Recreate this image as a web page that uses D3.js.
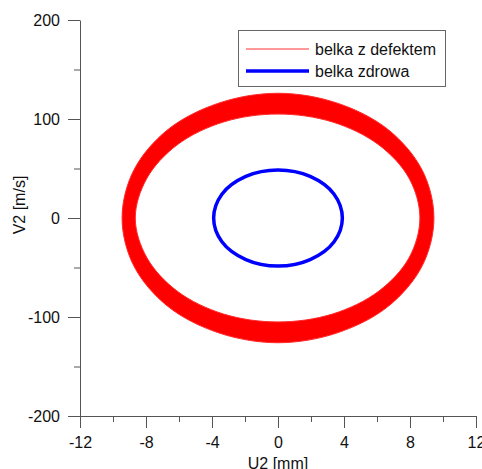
<!doctype html>
<html>
<head>
    <title>Phase portrait</title>
    <script src='https://d3js.org/d3.v7.min.js'></script>
    <style>
        body { margin: 0; background: #fff; }
        text { font-family: 'Liberation Sans', Arial, sans-serif; }
    </style>
</head>
<body>
<svg></svg>
</body>
<script>

    // axis ticks
    var xTicks = [-12, -8, -4, 0, 4, 8, 12];
    var xMinor = [-10, -6, -2, 2, 6, 10];
    var yTicks = [-200, -100, 0, 100, 200];
    var yMinor = [-150, -50, 50, 150];

    // beam with defect: outer and inner edge of the red band (U [mm], V [m/s])
    var defOuterU = [9.45, 8.75, 6.7, 3.6, 0, -3.6, -6.7, -8.75, -9.45, -8.75, -6.7, -3.6, 0, 3.6, 6.7, 8.75];
    var defOuterV = [0, 48, 89, 116, 126, 116, 89, 48, 0, -48, -89, -116, -126, -116, -89, -48];
    var defInnerU = [8.6, 7.95, 6.1, 3.3, 0, -3.3, -6.1, -7.95, -8.65, -7.95, -6.1, -3.3, 0, 3.3, 6.1, 7.95];
    var defInnerV = [0, 40, 74, 97, 105, 97, 74, 40, 0, -40, -74, -97, -105, -97, -74, -40];

    // healthy beam (blue)
    var okU = [3.9, 3.4, 1.95, 0, -1.95, -3.4, -3.9, -3.4, -1.95, 0, 1.95, 3.4];
    var okV = [0, 24, 42, 48.5, 42, 24, 0, -24, -42, -48.5, -42, -24];

    var svgWidth = 482, svgHeight = 469;
    var svg = d3.select('svg')
        .attr('width', svgWidth)
        .attr('height', svgHeight);

    var xScale = d3.scaleLinear().domain([-12, 12]).range([80, 476]);
    var yScale = d3.scaleLinear().domain([-200, 200]).range([416, 20]);

    function pts(us, vs) {
        return us.map(function (u, i) { return [xScale(u), yScale(vs[i])]; });
    }

    var loop = d3.line().curve(d3.curveCatmullRomClosed);

    // red band
    svg.append('path')
        .attr('d', loop(pts(defOuterU, defOuterV)) + loop(pts(defInnerU, defInnerV).reverse()))
        .attr('fill', '#ff0000')
        .attr('fill-rule', 'evenodd')
        .attr('stroke', '#ff2a2a')
        .attr('stroke-width', 1);

    // blue loop
    svg.append('path')
        .attr('d', loop(pts(okU, okV)))
        .attr('fill', 'none')
        .attr('stroke', '#0000ff')
        .attr('stroke-width', 3.5);

    // axes
    var axisColor = '#555';
    var noLabel = function () { return ''; };

    var xAxis = svg.append('g')
        .attr('class', 'major')
        .attr('transform', 'translate(0,416)')
        .call(d3.axisBottom(xScale).tickValues(xTicks).tickSizeInner(12).tickSizeOuter(0).tickPadding(9)
            .tickFormat(function (d) { return String(d); }));
    svg.append('g')
        .attr('transform', 'translate(0,416)')
        .call(d3.axisBottom(xScale).tickValues(xMinor).tickSize(6).tickFormat(noLabel))
        .select('.domain').remove();

    var yAxis = svg.append('g')
        .attr('class', 'major')
        .attr('transform', 'translate(80,0)')
        .call(d3.axisLeft(yScale).tickValues(yTicks).tickSizeInner(12).tickSizeOuter(0).tickPadding(8)
            .tickFormat(function (d) { return String(d); }));
    svg.append('g')
        .attr('transform', 'translate(80,0)')
        .call(d3.axisLeft(yScale).tickValues(yMinor).tickSize(6).tickFormat(noLabel))
        .select('.domain').remove();

    svg.selectAll('.domain, .tick line').attr('stroke', axisColor);
    svg.selectAll('.major .tick text')
        .attr('fill', '#111')
        .style('font-size', '16px')
        .style('font-family', "'Liberation Sans', Arial, sans-serif");

    // axis titles
    svg.append('text')
        .attr('x', 278).attr('y', 469)
        .attr('text-anchor', 'middle')
        .style('font-size', '16px')
        .attr('fill', '#111')
        .text('U2 [mm]');

    svg.append('text')
        .attr('transform', 'translate(25,205) rotate(-90)')
        .attr('text-anchor', 'middle')
        .style('font-size', '16px')
        .attr('fill', '#111')
        .text('V2 [m/s]');

    // legend
    var legend = svg.append('g');
    legend.append('rect')
        .attr('x', 238.5).attr('y', 30.5)
        .attr('width', 207).attr('height', 56)
        .attr('fill', '#fff')
        .attr('stroke', '#666');

    var legendItems = [
        { label: 'belka z defektem', color: '#ff3030', width: 1 },
        { label: 'belka zdrowa', color: '#0000ff', width: 3.5 }
    ];
    legendItems.forEach(function (d, i) {
        var y = 49 + i * 22;
        legend.append('line')
            .attr('x1', 246).attr('x2', 309)
            .attr('y1', y).attr('y2', y)
            .attr('stroke', d.color)
            .attr('stroke-width', d.width);
        legend.append('text')
            .attr('x', 315).attr('y', y + 6)
            .style('font-size', '16px')
            .attr('fill', '#111')
            .text(d.label);
    });

</script>
</html>
